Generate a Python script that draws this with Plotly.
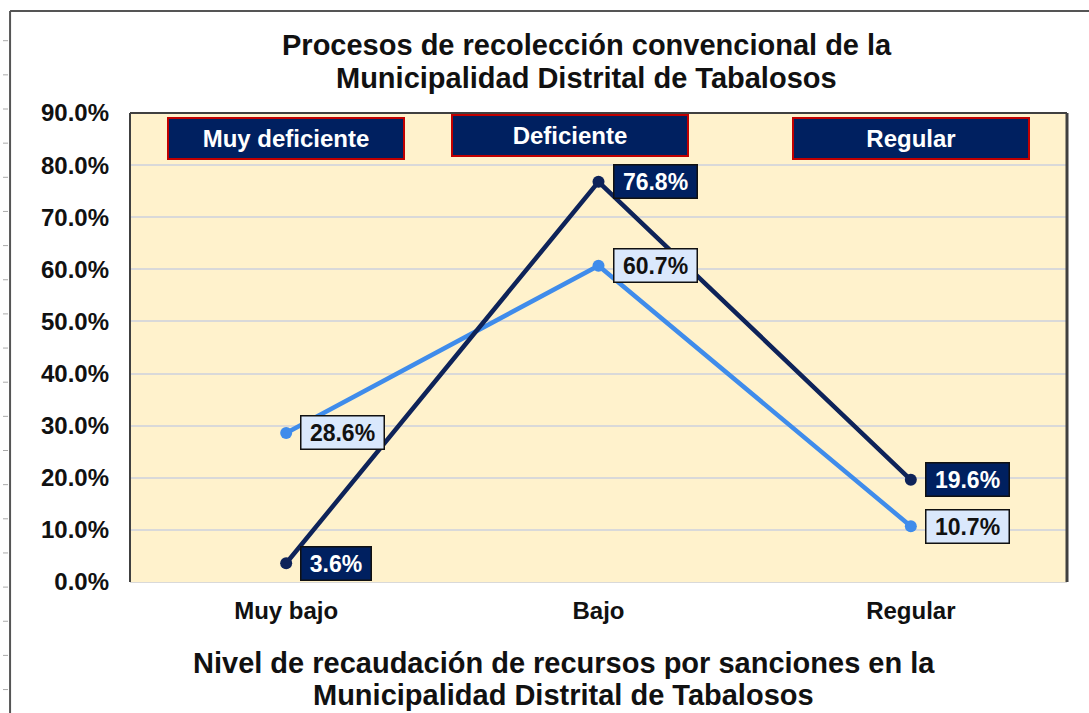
import plotly.graph_objects as go

categories = ["Muy bajo", "Bajo", "Regular"]
serie_oscura = [3.6, 76.8, 19.6]
serie_clara = [28.6, 60.7, 10.7]
y_ticks = [0, 10, 20, 30, 40, 50, 60, 70, 80, 90]
y_tick_labels = [f"{v:.1f}%" for v in y_ticks]
niveles = ["Muy deficiente", "Deficiente", "Regular"]
niveles_x = [0.0, 0.91, 2.0]
niveles_y = [85.1, 85.7, 85.1]
titulo = ["Procesos de recolección convencional de la", "Municipalidad Distrital de Tabalosos"]
titulo_x = ["Nivel de recaudación de recursos por sanciones en la", "Municipalidad Distrital de Tabalosos"]

DARK = "#0E2359"
LIGHT = "#3F8CEB"
FONT = "Liberation Sans, Arial, sans-serif"

fig = go.Figure()
fig.add_trace(go.Scatter(x=categories, y=serie_clara, mode="lines+markers",
                         line=dict(color=LIGHT, width=4.5), marker=dict(size=12, color=LIGHT),
                         showlegend=False, hoverinfo="skip"))
fig.add_trace(go.Scatter(x=categories, y=serie_oscura, mode="lines+markers",
                         line=dict(color=DARK, width=4.5), marker=dict(size=12, color=DARK),
                         showlegend=False, hoverinfo="skip"))


def label(c, v, bg, fg):
    txt = f"{v:.1f}%"
    return dict(x=c, y=v, xref="x", yref="y", text=f"<b>{txt}</b>",
                showarrow=False, xanchor="left", yanchor="middle", xshift=14,
                width=13 * len(txt) + 11, align="center",
                bgcolor=bg, bordercolor="#111111", borderwidth=1.5, borderpad=3,
                font=dict(family=FONT, size=23, color=fg))


annotations = []
for c, v in zip(categories, serie_oscura):
    annotations.append(label(c, v, "#002060", "white"))
for c, v in zip(categories, serie_clara):
    annotations.append(label(c, v, "#DAE8FC", "#111111"))
for t, xx, yy in zip(niveles, niveles_x, niveles_y):
    annotations.append(dict(x=xx, y=yy, xref="x", yref="y", text=f"<b>{t}</b>",
                            showarrow=False, xanchor="center", yanchor="middle",
                            width=232, height=37, bgcolor="#002060", bordercolor="#C00000",
                            borderwidth=2, borderpad=1,
                            font=dict(family=FONT, size=24, color="white")))

for line, yy in zip(titulo, [1.145, 1.0746]):
    annotations.append(dict(x=0.4877, y=yy, xref="paper", yref="paper",
                            text=f"<b>{line}</b>", showarrow=False, xanchor="center", yanchor="middle",
                            font=dict(family=FONT, size=29, color="#111111")))
for line, yy in zip(titulo_x, [-0.1727, -0.241]):
    annotations.append(dict(x=0.463, y=yy, xref="paper", yref="paper",
                            text=f"<b>{line}</b>", showarrow=False, xanchor="center", yanchor="middle",
                            font=dict(family=FONT, size=29, color="#111111")))

shapes = [
    dict(type="line", xref="paper", yref="paper", x0=0, x1=0, y0=0, y1=1, line=dict(color="#404040", width=2)),
    dict(type="line", xref="paper", yref="paper", x0=0, x1=1, y0=1, y1=1, line=dict(color="#404040", width=2)),
    dict(type="line", xref="paper", yref="paper", x0=1, x1=1, y0=0, y1=1, line=dict(color="#404040", width=3)),
    dict(type="line", xref="paper", yref="paper", x0=-0.128, x1=1.05, y0=1.2175, y1=1.2175, line=dict(color="#555555", width=2)),
    dict(type="line", xref="paper", yref="paper", x0=-0.128, x1=-0.128, y0=1.2175, y1=-0.32, line=dict(color="#555555", width=2)),
]
ypix = 40.7
while ypix < 713:
    yp = (582 - ypix) / 469
    shapes.append(dict(type="line", xref="paper", yref="paper", x0=(3 - 130) / 937, x1=(8 - 130) / 937,
                       y0=yp, y1=yp, line=dict(color="#AAAAAA", width=1)))
    ypix += 34.15

fig.update_layout(
    width=1089, height=713,
    margin=dict(l=130, r=22, t=113, b=131),
    paper_bgcolor="white", plot_bgcolor="#FFF2CC",
    font=dict(family=FONT, color="#111111"),
    xaxis=dict(type="category", range=[-0.5, 2.5], showgrid=False, zeroline=False,
               showline=True, linecolor="#D9D9D9", linewidth=1, ticks="",
               tickvals=categories, ticktext=[f"<b>{c}</b>" for c in categories],
               tickfont=dict(family=FONT, size=24, color="#111111"), ticklabelstandoff=7),
    yaxis=dict(range=[0, 90], tickvals=y_ticks, ticktext=[f"<b>{s}</b>" for s in y_tick_labels],
               showgrid=True, gridcolor="#D9D9D9", gridwidth=1.5, zeroline=False,
               tickfont=dict(family=FONT, size=24, color="#111111"), ticks="", ticklabelstandoff=20),
    annotations=annotations, shapes=shapes,
)

fig.write_html("out.html", post_script="document.body.style.margin='0';",
               config={"displayModeBar": False})
